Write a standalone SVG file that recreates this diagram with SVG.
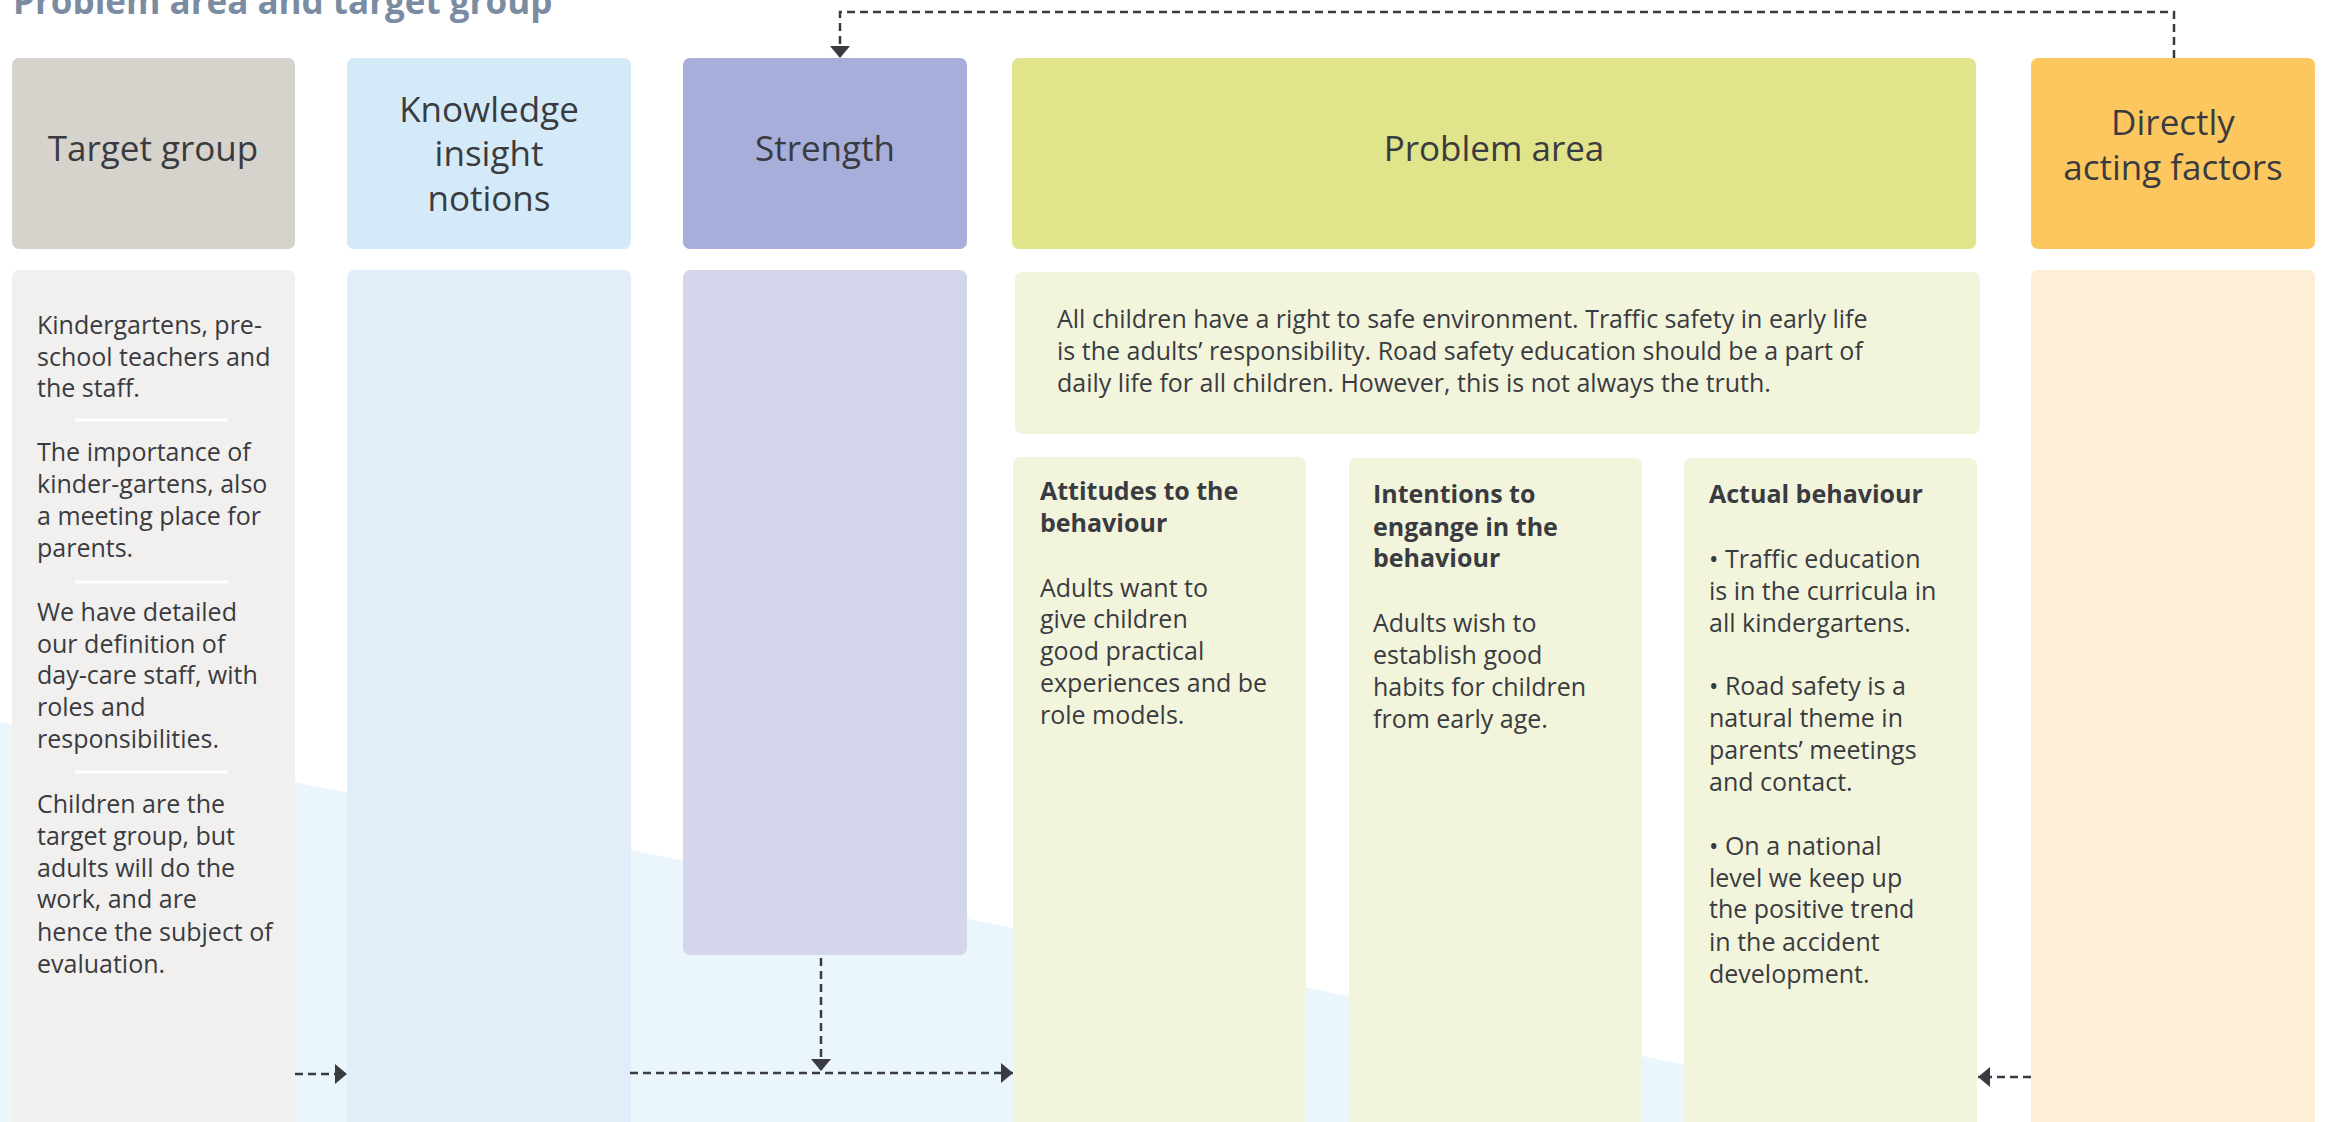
<svg xmlns="http://www.w3.org/2000/svg" width="2326" height="1122" viewBox="0 0 2326 1122">
<defs>
<style>
.h{font-family:"Open Sans","Noto Sans",sans-serif;font-size:35px;fill:#3a3b40;text-anchor:middle}
.t{font-family:"Open Sans","Noto Sans",sans-serif;font-size:25px;fill:#3a3b40}
.tb{font-family:"Open Sans","Noto Sans",sans-serif;font-size:25px;fill:#3a3b40;font-weight:bold}
.title{font-family:"Open Sans","Noto Sans",sans-serif;font-size:35px;font-weight:bold;fill:#7b8ca2}
.sep{stroke:#ffffff;stroke-width:3}
.con{fill:none;stroke:#3a3b40;stroke-width:2.5;stroke-dasharray:8 5;marker-end:url(#ah)}
</style>
<marker id="ah" viewBox="0 0 12 20" refX="12" refY="10" markerWidth="12" markerHeight="20" orient="auto" markerUnits="userSpaceOnUse">
<path d="M0,0 L12,10 L0,20 z" fill="#3a3b40"/>
</marker>
</defs>
<rect width="2326" height="1122" fill="#ffffff"/>
<polygon points="0,722 2326,1195 0,1195" fill="#eaf5fc"/>
<text class="title" x="13" y="14">Problem area and target group</text>

<g id="target-group">
<rect x="12" y="58" width="283" height="191" rx="7" fill="#d6d2cc"/>
<text class="h" x="153" y="161">Target group</text>
<rect x="12" y="270" width="283" height="870" rx="7" fill="#f1f0ef"/>
<text class="t">
<tspan x="37" y="334">Kindergartens, pre-</tspan>
<tspan x="37" y="366">school teachers and</tspan>
<tspan x="37" y="397">the staff.</tspan>
<tspan x="37" y="461">The importance of</tspan>
<tspan x="37" y="493">kinder-gartens, also</tspan>
<tspan x="37" y="525">a meeting place for</tspan>
<tspan x="37" y="557">parents.</tspan>
<tspan x="37" y="621">We have detailed</tspan>
<tspan x="37" y="653">our definition of</tspan>
<tspan x="37" y="684">day-care staff, with</tspan>
<tspan x="37" y="716">roles and</tspan>
<tspan x="37" y="748">responsibilities.</tspan>
<tspan x="37" y="813">Children are the</tspan>
<tspan x="37" y="845">target group, but</tspan>
<tspan x="37" y="877">adults will do the</tspan>
<tspan x="37" y="908">work, and are</tspan>
<tspan x="37" y="941">hence the subject of</tspan>
<tspan x="37" y="973">evaluation.</tspan>
</text>
<line class="sep" x1="75" y1="420" x2="228" y2="420"/>
<line class="sep" x1="75" y1="582" x2="228" y2="582"/>
<line class="sep" x1="75" y1="772" x2="228" y2="772"/>
</g>

<g id="knowledge">
<rect x="347" y="58" width="284" height="191" rx="7" fill="#d5eaf8"/>
<text class="h"><tspan x="489" y="122">Knowledge</tspan><tspan x="489" y="166">insight</tspan><tspan x="489" y="211">notions</tspan></text>
<rect x="347" y="270" width="284" height="870" rx="7" fill="#e1eef9"/>
</g>

<g id="strength">
<rect x="683" y="58" width="284" height="191" rx="7" fill="#a6aed9"/>
<text class="h" x="825" y="161">Strength</text>
<rect x="683" y="270" width="284" height="685" rx="7" fill="#d4d6ec"/>
</g>

<g id="problem-area">
<rect x="1012" y="58" width="964" height="191" rx="7" fill="#e0e48a"/>
<text class="h" x="1494" y="161">Problem area</text>
<rect x="1015" y="272" width="965" height="162" rx="7" fill="#f2f5dc"/>
<text class="t">
<tspan x="1057" y="328">All children have a right to safe environment. Traffic safety in early life</tspan>
<tspan x="1057" y="360">is the adults’ responsibility. Road safety education should be a part of</tspan>
<tspan x="1057" y="392">daily life for all children. However, this is not always the truth.</tspan>
</text>
</g>

<g id="attitudes">
<rect x="1013" y="457" width="293" height="683" rx="7" fill="#f2f5dc"/>
<text class="tb"><tspan x="1040" y="500">Attitudes to the</tspan><tspan x="1040" y="532">behaviour</tspan></text>
<text class="t">
<tspan x="1040" y="597">Adults want to</tspan>
<tspan x="1040" y="628">give children</tspan>
<tspan x="1040" y="660">good practical</tspan>
<tspan x="1040" y="692">experiences and be</tspan>
<tspan x="1040" y="724">role models.</tspan>
</text>
</g>

<g id="intentions">
<rect x="1349" y="458" width="293" height="682" rx="7" fill="#f2f5dc"/>
<text class="tb"><tspan x="1373" y="503">Intentions to</tspan><tspan x="1373" y="536">engange in the</tspan><tspan x="1373" y="567">behaviour</tspan></text>
<text class="t">
<tspan x="1373" y="632">Adults wish to</tspan>
<tspan x="1373" y="664">establish good</tspan>
<tspan x="1373" y="696">habits for children</tspan>
<tspan x="1373" y="728">from early age.</tspan>
</text>
</g>

<g id="actual-behaviour">
<rect x="1684" y="458" width="293" height="682" rx="7" fill="#f2f5dc"/>
<text class="tb" x="1709" y="503">Actual behaviour</text>
<text class="t">
<tspan x="1709" y="568">• Traffic education</tspan>
<tspan x="1709" y="600">is in the curricula in</tspan>
<tspan x="1709" y="632">all kindergartens.</tspan>
<tspan x="1709" y="695">• Road safety is a</tspan>
<tspan x="1709" y="727">natural theme in</tspan>
<tspan x="1709" y="759">parents’ meetings</tspan>
<tspan x="1709" y="791">and contact.</tspan>
<tspan x="1709" y="855">• On a national</tspan>
<tspan x="1709" y="887">level we keep up</tspan>
<tspan x="1709" y="918">the positive trend</tspan>
<tspan x="1709" y="951">in the accident</tspan>
<tspan x="1709" y="983">development.</tspan>
</text>
</g>

<g id="directly-acting-factors">
<rect x="2031" y="58" width="284" height="191" rx="7" fill="#fdc760"/>
<text class="h"><tspan x="2173" y="135">Directly</tspan><tspan x="2173" y="180">acting factors</tspan></text>
<rect x="2031" y="270" width="284" height="870" rx="7" fill="#fdefd6"/>
</g>

<g id="connectors">
<path class="con" d="M2174,58 V12 H840 V58"/>
<path class="con" d="M295,1074 H347"/>
<path class="con" d="M630,1073 H1013"/>
<path class="con" d="M821,958 V1071"/>
<path class="con" d="M2031,1077 H1978"/>
</g>
</svg>
